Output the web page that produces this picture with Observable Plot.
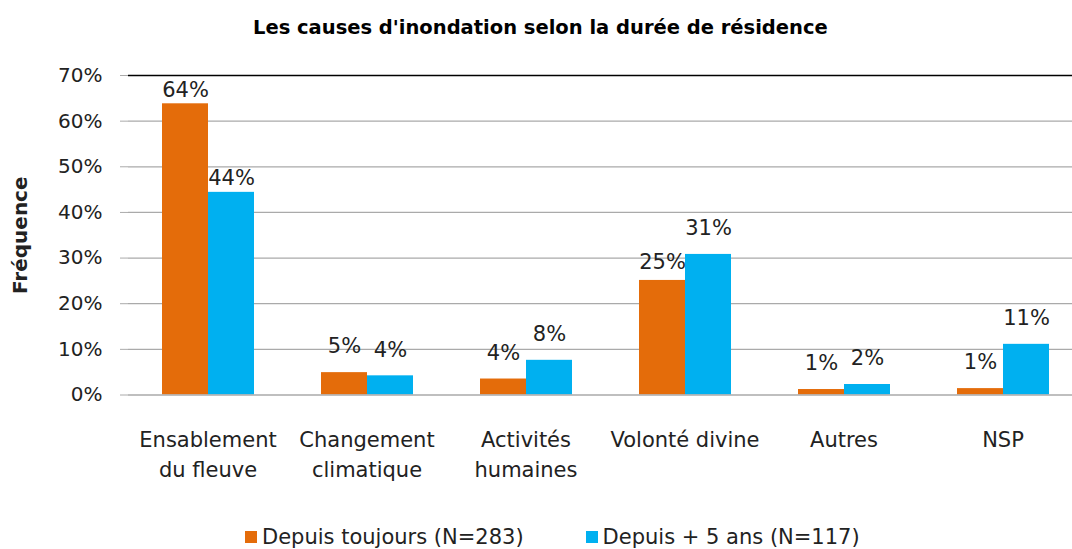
<!DOCTYPE html>
<html>
<head>
<meta charset="utf-8">
<script src="https://cdn.jsdelivr.net/npm/d3@7"></script>
<script src="https://cdn.jsdelivr.net/npm/@observablehq/plot@0.6"></script>
<style>
  body { margin: 0; background: #fff; font-family: "DejaVu Sans", sans-serif; overflow: hidden; }
  #wrap { width: 1072px; height: 549px; overflow: hidden; }
  #title { height: 50px; line-height: 56px; font-weight: bold; font-size: 19.5px; color: #000; white-space: nowrap; padding-left: 253px; box-sizing: border-box; }
  #chart { width: 1072px; height: 445px; overflow: hidden; }
  #chart svg { display: block; max-width: none !important; }
  #legend { height: 54px; display: flex; justify-content: flex-start; align-items: flex-start; gap: 62px; font-size: 21px; line-height: 24px; color: #222; padding-top: 30px; padding-left: 245px; box-sizing: border-box; white-space: nowrap; }
  .item { display: flex; align-items: center; gap: 5px; }
  .sw { width: 12px; height: 12px; display: inline-block; }
  svg [aria-label="y-axis label"] { font-weight: bold; }
</style>
</head>
<body>
<div id="wrap">
  <div id="title">Les causes d'inondation selon la durée de résidence</div>
  <div id="chart"></div>
  <div id="legend"></div>
</div>
<script>
const categories = ["Ensablement du fleuve", "Changement climatique", "Activités humaines", "Volonté divine", "Autres", "NSP"];
const tickLabels = ["Ensablement\ndu fleuve", "Changement\nclimatique", "Activités\nhumaines", "Volonté divine", "Autres", "NSP"];
const series = ["Depuis toujours (N=283)", "Depuis + 5 ans (N=117)"];
const depuisToujours = [63.8, 4.9, 3.5, 25.1, 1.2, 1.4];
const depuis5ans = [44.4, 4.2, 7.6, 30.8, 2.3, 11.1];
const yTicks = [0, 10, 20, 30, 40, 50, 60, 70];
const colors = ["#E46C0A", "#00B0F0"];

const data = [];
categories.forEach((c, i) => {
  data.push({cat: c, s: series[0], v: depuisToujours[i]});
  data.push({cat: c, s: series[1], v: depuis5ans[i]});
});
const labelOf = new Map(categories.map((c, i) => [c, tickLabels[i]]));
const fmt = d => Math.round(d.v) + "%";
const labelStyle = {fx: "cat", x: "s", y: "v", text: fmt, fill: "#222", fontSize: 21, lineAnchor: "middle"};

const chart = Plot.plot({
  width: 1083,
  height: 445,
  marginLeft: 126,
  marginRight: 0,
  marginTop: 25,
  marginBottom: 100.5,
  style: {fontFamily: "'DejaVu Sans', sans-serif", fontSize: "20px", color: "#222", overflow: "visible", maxWidth: "none"},
  fx: {domain: categories, padding: 0, label: null},
  x: {domain: series, paddingInner: 0, paddingOuter: 0.72, axis: null},
  y: {domain: [0, 70], label: null},
  color: {domain: series, range: colors},
  marks: [
    Plot.ruleY(yTicks.slice(1, -1), {stroke: "#aaaaaa", strokeWidth: 1.2}),
    Plot.ruleY([70], {stroke: "#000", strokeWidth: 1.3}),
    Plot.barY(data, {fx: "cat", x: "s", y: "v", fill: "s"}),
    Plot.ruleY([0], {stroke: "#aaaaaa", strokeWidth: 1.5}),
    Plot.text(data.filter(d => d.cat !== categories[0] && !(d.cat === categories[3] && d.s === series[0])), {...labelStyle, dy: -26}),
    Plot.text(data.filter(d => d.cat === categories[0]), {...labelStyle, dy: -14}),
    Plot.text(data.filter(d => d.cat === categories[3] && d.s === series[0]), {...labelStyle, dy: -18}),
    Plot.axisY(yTicks, {tickSize: 8, tickPadding: 18, stroke: "#aaaaaa", tickFormat: d => d + "%", fontSize: 20, label: "Fréquence", labelAnchor: "center", labelOffset: 116, labelArrow: "none"}),
    Plot.ruleX([0], {frameAnchor: "left", facet: "exclude", stroke: "#aaaaaa", strokeWidth: 1.5}),
    Plot.axisFx({anchor: "bottom", tickSize: 0, tickPadding: 31, label: null, tickFormat: d => labelOf.get(d), lineHeight: 1.43, fontSize: 21})
  ]
});
document.getElementById("chart").appendChild(chart);

const legend = document.getElementById("legend");
series.forEach((s, i) => {
  const it = document.createElement("div");
  it.className = "item";
  const sw = document.createElement("span");
  sw.className = "sw";
  sw.style.background = colors[i];
  const t = document.createElement("span");
  t.textContent = s;
  it.appendChild(sw);
  it.appendChild(t);
  legend.appendChild(it);
});
</script>
</body>
</html>
